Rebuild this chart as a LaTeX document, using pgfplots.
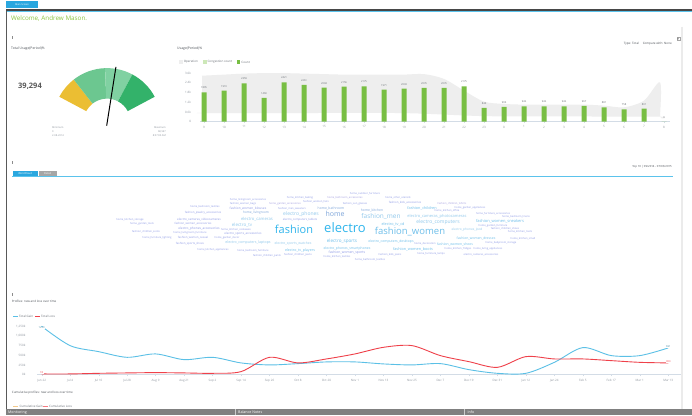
\documentclass[border=0pt]{standalone}
\usepackage{fontspec}
\setmainfont{Open Sans}
\usepackage{pgfplots}
\pgfplotsset{compat=1.18}
\definecolor{barGreen}{HTML}{78BE43}
\definecolor{areaGray}{HTML}{EEEEEE}
\definecolor{legLight}{HTML}{CDE8B8}
\definecolor{axisLine}{HTML}{D3DCE6}
\definecolor{tickGray}{HTML}{8E959E}
\definecolor{labelGray}{HTML}{6A6F76}
\definecolor{titleGray}{HTML}{4A4F55}
\definecolor{lineBlue}{HTML}{5BC0E6}
\definecolor{lineRed}{HTML}{EF414A}
\definecolor{welcome}{HTML}{8CC63F}
\definecolor{tabBlue}{HTML}{2AA7DF}
\definecolor{thinBlue}{HTML}{5BC3EC}
\definecolor{gYellow}{HTML}{EBBE33}
\definecolor{gMid}{HTML}{6CC790}
\definecolor{gLight}{HTML}{80D1A2}
\definecolor{gDark}{HTML}{33B26A}
\definecolor{wcCyan}{HTML}{2FB5EC}
\definecolor{wcSky}{HTML}{6EBFEA}
\definecolor{wcPale}{HTML}{92C9EC}
\definecolor{wcSteel}{HTML}{7FA6DA}
\definecolor{wcLav}{HTML}{8E9AE6}
\definecolor{wcLav2}{HTML}{A39EE0}
\definecolor{cumGain}{HTML}{F3C98B}
\newcommand{\fs}[1]{\fontsize{#1}{#1}\selectfont}
\newcommand{\wc}[5]{\node[font=\fs{#3},text=#4,inner sep=0pt] at (#1,#2) {#5};}
\begin{document}
\begin{tikzpicture}
\fill[white] (0,0) rectangle (692pt,-414pt);

% ---------------- bar chart ----------------
\begin{axis}[
  at={(200pt,-121pt)}, anchor=south west,
  scale only axis, width=470pt, height=48.7pt,
  xmin=-0.2, xmax=23.3, ymin=0, ymax=3000,
  axis lines*=left,
  x axis line style={draw=axisLine, line width=0.5pt},
  y axis line style={draw=none},
  xtick={0,...,23},
  xticklabels={9,10,11,12,13,14,15,16,17,18,19,20,21,22,23,0,1,2,3,4,5,6,7,8},
  ytick={0,600,1200,1800,2400,3000},
  yticklabels={0,0.6k,1.2k,1.8k,2.4k,3.0k},
  tick label style={font=\fs{3}, text=tickGray},
  yticklabel style={xshift=-4pt},
  xticklabel style={yshift=0.8pt},
  /pgf/number format/assume math mode=true,
  major tick length=1.5pt,
  xtick style={draw=axisLine},
  ytick style={draw=none},
  tick align=outside,
  clip=false,
]
\addplot[fill=areaGray, draw=none, smooth, mark=none] coordinates {
(-0.1,2834) (0,2834) (1,2895) (2,2957) (3,2988) (4,2988) (5,2957) (6,2926) (7,2895)
(8,2895) (9,2895) (10,2895) (11,2926) (12,2630) (13,1910) (14,1232) (15,1090)
(16,1047) (17,1047) (18,1047) (19,1047) (20,986) (21,881) (22,1294) (22.8,2421)
(22.8,320) (22.75,308) (18,320) (14,339) (10,524) (5,530) (-0.05,524) (-0.1,540)};
\addplot[ybar, bar width=5pt, fill=barGreen, draw=none,
  nodes near coords,
  nodes near coords style={font=\fs{2.6}, text=labelGray, /pgf/number format/1000 sep={}}]
coordinates {
(0,1805) (1,1910) (2,2359) (3,1460) (4,2421) (5,2261) (6,2094) (7,2156)
(8,2175) (9,1971) (10,2033) (11,2076) (12,2076) (13,2175) (14,844) (15,906)
(16,942) (17,942) (18,942) (19,967) (20,881) (21,758) (22,801) (23,0)};
\end{axis}

% ---------------- line chart ----------------
\begin{axis}[
  at={(37.4pt,-374pt)}, anchor=south west,
  scale only axis, width=645.1pt, height=48.3pt,
  xmin=-0.15, xmax=22.5, ymin=0, ymax=1250,
  axis lines*=left,
  x axis line style={draw=axisLine, line width=0.5pt},
  y axis line style={draw=none},
  xtick={0,...,22},
  xticklabels={Jun 22,Jul 4,Jul 16,Jul 28,Aug 9,Aug 21,Sep 2,Sep 14,Sep 26,Oct 8,Oct 20,Nov 1,Nov 13,Nov 25,Dec 7,Dec 19,Dec 31,Jan 12,Jan 24,Feb 5,Feb 17,Mar 1,Mar 13},
  ytick={0,250,500,750,1000,1250},
  yticklabels={0k,250k,500k,750k,{1,000k},{1,250k}},
  tick label style={font=\fs{3}, text=tickGray},
  yticklabel style={xshift=-7pt},
  /pgf/number format/assume math mode=true,
  major tick length=1.5pt,
  xtick style={draw=axisLine},
  ytick style={draw=none},
  tick align=outside,
  clip=false,
]
\addplot[lineBlue, line width=0.9pt, smooth, mark=none] coordinates {
(0,1250) (1,750) (2,595) (3,448) (4,536) (5,388) (6,448) (7,303) (8,251) (9,285)
(10,329) (11,329) (12,277) (13,251) (14,285) (15,129) (16,34) (17,34) (18,318)
(19,699) (20,492) (21,492) (22,691)};
\addplot[lineRed, line width=0.9pt, smooth, mark=none] coordinates {
(0,18) (1,18) (2,34) (3,44) (4,52) (5,44) (6,34) (7,78) (8,448) (9,303)
(10,406) (11,536) (12,707) (13,751) (14,492) (15,336) (16,189) (17,466) (18,406)
(19,406) (20,362) (21,318) (22,303)};
\addplot[draw=none, mark=none, nodes near coords, nodes near coords align={below},
  nodes near coords style={font=\fs{2.6}, text=lineBlue!70!black, fill=white, inner sep=0.4pt, /pgf/number format/1000 sep={}}]
  coordinates {(0,1250)};
\addplot[draw=none, mark=none, nodes near coords, nodes near coords align={above},
  nodes near coords style={font=\fs{2.6}, text=lineBlue!70!black, fill=white, inner sep=0.4pt}]
  coordinates {(22,691)};
\addplot[draw=none, mark=none, nodes near coords, nodes near coords align={above},
  nodes near coords style={font=\fs{2.6}, text=lineRed, fill=white, inner sep=0.4pt}]
  coordinates {(0,18) (22,303)};
\end{axis}

% ---------------- gauge ----------------
\begin{scope}[shift={(107pt,-121.5pt)}]
\def\Ro{54pt}\def\Ri{23.5pt}
\fill[gYellow] (152:\Ro) arc[start angle=152,end angle=128,radius=\Ro] -- (128:\Ri) arc[start angle=128,end angle=152,radius=\Ri] -- cycle;
\fill[gMid] (128:\Ro) arc[start angle=128,end angle=92,radius=\Ro] -- (92:\Ri) arc[start angle=92,end angle=128,radius=\Ri] -- cycle;
\fill[gLight] (92:\Ro) arc[start angle=92,end angle=62,radius=\Ro] -- (62:\Ri) arc[start angle=62,end angle=92,radius=\Ri] -- cycle;
\fill[gDark] (62:\Ro) arc[start angle=62,end angle=28,radius=\Ro] -- (28:\Ri) arc[start angle=28,end angle=62,radius=\Ri] -- cycle;
\draw[black, line width=1pt] (265:3.5pt) -- (80.8:56pt);
\end{scope}

% ---------------- decorations / text ----------------
\begin{scope}[x=1pt,y=-1pt]
\fill[tabBlue] (6,0) rectangle (38,7);
\node[font=\fs{2.4},text=white] at (22,3.6) {Main Screen};
\fill[black!72] (6,8) rectangle (692,10.5);
\fill[thinBlue] (6,10.5) rectangle (692,11.6);
\draw[black!65, line width=1pt] (6,10) -- (6,414);
\draw[black!8, line width=1.2pt] (682,26) -- (682,408);
\node[anchor=west,font=\fs{6.3},text=welcome,inner sep=0] at (11,18) {Welcome, Andrew Mason.};
\foreach \yy in {37,162,294} {\draw[black!45,line width=0.4pt] (11.7,\yy-1.2) -- (11.7,\yy+1.2);}
\node[anchor=west,font=\fs{3.4},text=titleGray,inner sep=0] at (11,47.5) {Total Usage(Period)\%};
\node[anchor=west,font=\fs{3.4},text=titleGray,inner sep=0] at (177,47.5) {Usage(Period)\%};
\node[anchor=west,font=\bfseries\fs{7.5},text=black!65,inner sep=0] at (18,85.5) {39,294};
\node[anchor=west,font=\fs{2.5},text=tickGray,inner sep=0] at (52,127) {Minimum};
\node[anchor=west,font=\fs{2.5},text=tickGray,inner sep=0] at (52,131) {0};
\node[anchor=west,font=\fs{2.5},text=tickGray,inner sep=0] at (52,135) {2-08-2014};
\node[anchor=east,font=\fs{2.5},text=tickGray,inner sep=0] at (166,127) {Maximum};
\node[anchor=east,font=\fs{2.5},text=tickGray,inner sep=0] at (166,131) {68,597};
\node[anchor=east,font=\fs{2.5},text=tickGray,inner sep=0] at (166,135) {8:07:00 AM};
\fill[areaGray] (179.3,59.6) rectangle (182.9,63.2);
\node[anchor=west,font=\fs{3},text=labelGray,inner sep=0] at (183.6,61.5) {Operation};
\fill[legLight] (203,59.6) rectangle (206.6,63.2);
\node[anchor=west,font=\fs{3},text=labelGray,inner sep=0] at (207.4,61.5) {Congestion count};
\fill[barGreen] (236.8,59.6) rectangle (240.4,63.2);
\node[anchor=west,font=\fs{3},text=labelGray,inner sep=0] at (241.2,61.5) {Count};
\node[anchor=east,font=\fs{3},text=titleGray,inner sep=0] at (672,43.3) {Type: Total \quad Compare with: None};
\node[draw=black!35,font=\fs{4},text=black!70,inner sep=0.3pt] at (678.3,38.3) {×};
\fill[tabBlue] (12.7,170) rectangle (37.5,175.5);
\node[font=\fs{2.6},text=white] at (25.1,172.8) {WordCloud};
\fill[black!35] (39,170) rectangle (56.5,175.5);
\node[font=\fs{2.6},text=white] at (47.7,172.8) {Detail};
\fill[thinBlue] (12,175.2) rectangle (673,176.1);
\node[anchor=east,font=\fs{2.8},text=titleGray,inner sep=0] at (672,165.7) {Top 10 \textbar\ 09/2014 - 07/03/2015};
\wc{365}{193.5}{2.6}{wcLav}{home\_outdoor\_furniture}
\wc{398}{197}{2.6}{wcLav}{home\_other\_utensils}
\wc{300}{197.5}{2.6}{wcLav}{home\_kitchen\_baking}
\wc{345}{197.5}{2.6}{wcLav2}{home\_bathroom\_accessories}
\wc{248}{199}{2.6}{wcLav}{home\_livingroom\_accessories}
\wc{405}{202.5}{2.8}{wcLav}{fashion\_kids\_accessories}
\wc{452}{203}{2.6}{wcLav2}{fashion\_children\_tshirts}
\wc{243}{203.5}{2.6}{wcLav}{fashion\_women\_bags}
\wc{285}{203}{2.6}{wcLav2}{home\_garden\_accessories}
\wc{316}{201}{2.6}{wcLav}{fashion\_women\_hats}
\wc{355}{203.5}{2.6}{wcLav}{fashion\_sun\_glasses}
\wc{205}{206}{2.6}{wcLav}{home\_bedroom\_textiles}
\wc{248}{207.5}{3.2}{wcLav}{fashion\_women\_blouses}
\wc{292}{208}{2.6}{wcLav}{fashion\_men\_sweaters}
\wc{331}{207.5}{3.4}{wcSteel}{home\_bathroom}
\wc{372}{210}{3.4}{wcSteel}{home\_kitchen}
\wc{422}{207.5}{3.8}{wcSky}{fashion\_children}
\wc{470}{207}{2.6}{wcLav}{home\_garden\_appliances}
\wc{447}{210.5}{2.6}{wcLav}{home\_kitchen\_office}
\wc{203}{212}{2.8}{wcLav}{fashion\_jewelry\_accessories}
\wc{256}{212}{3.2}{wcSteel}{home\_livingroom}
\wc{301}{213.5}{5}{wcPale}{electro\_phones}
\wc{335}{213.5}{7}{wcSteel}{home}
\wc{381}{215.5}{6.5}{wcPale}{fashion\_men}
\wc{437}{215.5}{4}{wcPale}{electro\_cameras\_photocameras}
\wc{493}{213}{2.6}{wcLav}{home\_furniture\_accessories}
\wc{130}{219}{2.6}{wcLav}{home\_kitchen\_storage}
\wc{199}{219}{3}{wcLav}{electro\_cameras\_videocameras}
\wc{257}{218.5}{4.2}{wcPale}{electro\_cameras}
\wc{300}{219.5}{2.8}{wcLav}{electro\_computers\_tablets}
\wc{142}{223.5}{2.6}{wcLav}{home\_garden\_tools}
\wc{193}{223.5}{2.8}{wcLav}{fashion\_women\_accessories}
\wc{242}{224.5}{4.5}{wcPale}{electro\_tv}
\wc{393}{223.5}{3.8}{wcSky}{electro\_tv\_cd}
\wc{438}{221.5}{5}{wcPale}{electro\_computers}
\wc{500}{221}{4}{wcSky}{fashion\_women\_sneakers}
\wc{493}{225}{2.6}{wcLav}{home\_garden\_furniture}
\wc{516}{216.5}{2.6}{wcLav}{home\_bedroom\_linens}
\wc{199}{228.5}{3.2}{wcLav}{electro\_phones\_accessories}
\wc{236}{229}{2.6}{wcLav}{home\_kitchen\_cookware}
\wc{146}{231}{2.6}{wcLav}{fashion\_children\_socks}
\wc{190}{232}{2.6}{wcLav}{home\_livingroom\_furniture}
\wc{243}{233}{3}{wcLav}{electro\_sports\_accessories}
\wc{294}{229}{11}{wcCyan}{fashion}
\wc{345}{227}{13}{wcCyan}{electro}
\wc{410}{231}{9.5}{wcSky}{fashion\_women}
\wc{467}{229}{3.2}{wcPale}{electro\_phones\_ipod}
\wc{505}{228}{2.6}{wcLav}{fashion\_children\_shoes}
\wc{520}{231}{2.6}{wcLav}{home\_kitchen\_tools}
\wc{157}{237}{2.6}{wcLav}{home\_furniture\_lighting}
\wc{193}{237}{2.8}{wcLav}{fashion\_women\_casual}
\wc{227}{237}{2.6}{wcLav}{home\_garden\_decor}
\wc{476}{238}{3.4}{wcSky}{fashion\_women\_dresses}
\wc{523}{238}{2.6}{wcLav}{home\_kitchen\_small}
\wc{190}{243}{2.8}{wcLav}{fashion\_sports\_shoes}
\wc{248}{242}{3.6}{wcPale}{electro\_computers\_laptops}
\wc{293}{243}{3.4}{wcPale}{electro\_sports\_watches}
\wc{342}{241}{4.6}{wcSky}{electro\_sports}
\wc{391}{241}{3.4}{wcSky}{electro\_computers\_desktops}
\wc{425}{243.5}{2.6}{wcLav}{home\_decoration}
\wc{455}{244}{3.4}{wcSky}{fashion\_women\_shoes}
\wc{501}{242}{2.6}{wcLav}{home\_babyroom\_storage}
\wc{213}{249}{2.6}{wcLav}{home\_kitchen\_appliances}
\wc{253}{250}{2.6}{wcLav}{home\_bedroom\_furniture}
\wc{300}{249.5}{3.6}{wcSky}{electro\_tv\_players}
\wc{347}{247.5}{3.4}{wcSky}{electro\_phones\_smartphones}
\wc{347}{252}{3.4}{wcLav}{fashion\_women\_sports}
\wc{413}{249}{3.8}{wcSky}{fashion\_women\_boots}
\wc{458}{248.5}{2.6}{wcLav}{home\_kitchen\_fridges}
\wc{488}{248.5}{2.6}{wcLav}{home\_living\_appliances}
\wc{267}{255}{2.6}{wcLav}{fashion\_children\_pants}
\wc{298}{254}{2.6}{wcLav}{fashion\_children\_jeans}
\wc{337}{256}{2.6}{wcLav}{home\_kitchen\_textiles}
\wc{390}{254}{2.6}{wcLav}{fashion\_kids\_jeans}
\wc{431}{253.5}{2.6}{wcLav}{home\_furniture\_lamps}
\wc{481}{254}{2.6}{wcLav}{electro\_cameras\_accessories}
\wc{370}{259}{2.6}{wcLav}{home\_bathroom\_textiles}
\node[anchor=west,font=\fs{3},text=titleGray,inner sep=0] at (11.7,300.7) {Profiles: new and loss over time};
\draw[lineBlue,line width=0.8pt] (13.3,315.7) -- (17.5,315.7);
\node[anchor=west,font=\fs{3},text=labelGray,inner sep=0] at (19,315.7) {Total Gain};
\draw[lineRed,line width=0.8pt] (35,315.7) -- (39.5,315.7);
\node[anchor=west,font=\fs{3},text=labelGray,inner sep=0] at (41,315.7) {Total Loss};
\node[anchor=west,font=\fs{3},text=titleGray,inner sep=0] at (11.7,392.3) {Cumulative profiles: new and loss over time};
\draw[cumGain,line width=0.8pt] (13,405.5) -- (18,405.5);
\node[anchor=west,font=\fs{3},text=labelGray,inner sep=0] at (19.5,405.5) {Cumulative Gain};
\draw[lineRed!70,line width=0.8pt] (43,405.5) -- (48,405.5);
\node[anchor=west,font=\fs{3},text=labelGray,inner sep=0] at (49,405.5) {Cumulative Loss};
\fill[black!50] (6,408.5) rectangle (692,414);
\draw[black!20,line width=0.8pt] (235,408.5) -- (235,414);
\draw[black!20,line width=0.8pt] (464,408.5) -- (464,414);
\node[anchor=west,font=\fs{3.6},text=white,inner sep=0] at (8,411.5) {Monitoring};
\node[anchor=west,font=\fs{3.6},text=white,inner sep=0] at (238,411.5) {Balance Notes};
\node[anchor=west,font=\fs{3.6},text=white,inner sep=0] at (467.5,411.5) {Info};
\end{scope}
\path[use as bounding box] (0,0) rectangle (692pt,-414pt);
\end{tikzpicture}
\end{document}
